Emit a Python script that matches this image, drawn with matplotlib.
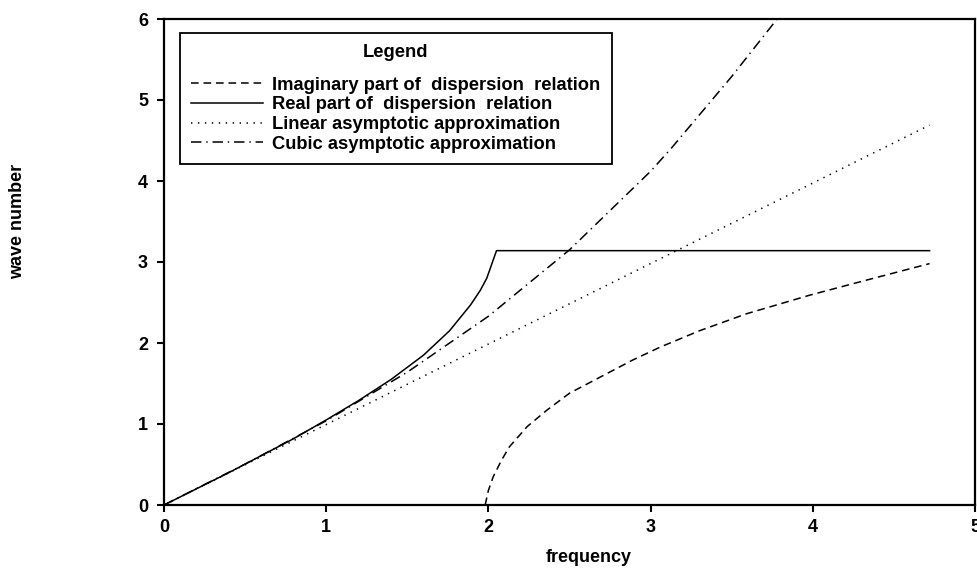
import matplotlib.pyplot as plt

plt.rcParams['font.family'] = ['Liberation Sans', 'DejaVu Sans']
plt.rcParams['font.weight'] = 'bold'
plt.rcParams['lines.scale_dashes'] = False

# Real part of the dispersion relation (flat at pi past the cut-off)
real_freq = [0.0, 0.2, 0.4, 0.6, 0.8, 1.0, 1.2, 1.4, 1.6, 1.76, 1.89, 1.95, 1.99, 2.05, 4.72]
real_k = [0.0, 0.20, 0.40, 0.61, 0.82, 1.05, 1.29, 1.55, 1.85, 2.15, 2.47, 2.65, 2.80, 3.14, 3.14]

# Imaginary part, only non-zero above the cut-off
imag_freq = [1.98, 2.0, 2.03, 2.08, 2.13, 2.24, 2.36, 2.50, 2.69, 2.89, 3.06, 3.3, 3.59, 3.98, 4.3, 4.72]
imag_k = [0.0, 0.18, 0.35, 0.55, 0.72, 0.97, 1.17, 1.38, 1.58, 1.79, 1.95, 2.15, 2.36, 2.59, 2.76, 2.98]

# Linear asymptote
lin_freq = [0.0, 4.72]
lin_k = [0.0, 4.69]

# Cubic asymptote (runs off the top of the plot)
cub_freq = [0.0, 0.5, 1.0, 1.5, 2.0, 2.5, 3.0, 3.13, 3.5, 3.78]
cub_k = [0.0, 0.505, 1.04, 1.64, 2.33, 3.15, 4.12, 4.41, 5.29, 6.0]

labels = ["Imaginary part of  dispersion  relation",
          "Real part of  dispersion  relation",
          "Linear asymptotic approximation",
          "Cubic asymptotic approximation"]

fig = plt.figure(figsize=(9.78, 5.8), dpi=100)
ax = fig.add_axes([164 / 978, 75 / 580, 811 / 978, 486 / 580])

lw = 1.1
ax.plot(imag_freq, imag_k, color='black', lw=lw, dashes=(5.5, 3.5), label=labels[0])
ax.plot(real_freq, real_k, color='black', lw=lw, label=labels[1])
ax.plot(lin_freq, lin_k, color='black', lw=lw, dashes=(1.0, 4.0), label=labels[2])
ax.plot(cub_freq, cub_k, color='black', lw=lw, dashes=(7.5, 3.5, 1.0, 3.5), label=labels[3])

ax.set_xlim(0, 5)
ax.set_ylim(0, 6)
ax.set_xticks([0, 1, 2, 3, 4, 5])
ax.set_yticks([0, 1, 2, 3, 4, 5, 6])
ax.tick_params(direction='out', length=5, width=1.5, labelsize=13, pad=5)
ax.tick_params(axis='y', pad=6.5)
for s in ax.spines.values():
    s.set_linewidth(1.6)

fig.text(589 / 978, 1 - 558 / 580, "frequency", ha='center', va='center',
         fontsize=13, fontweight='bold')
fig.text(18 / 978, 1 - 221 / 580, "wave number", ha='center', va='center',
         rotation=90, fontsize=13, fontweight='bold')

leg = ax.legend(loc='upper left', bbox_to_anchor=(16 / 811, 1 - 14 / 486),
                title="Legend", fontsize=13.2, title_fontsize=13.2,
                fancybox=False, edgecolor='black', framealpha=1,
                handlelength=3.9, handletextpad=0.5, labelspacing=0.15,
                borderpad=0.62, borderaxespad=0)
leg.get_frame().set_linewidth(1.3)
leg.get_title().set_fontweight('bold')
# extra gap between the title and the first entry
leg._legend_box.sep = 11

fig.savefig("out.png", dpi=100)
